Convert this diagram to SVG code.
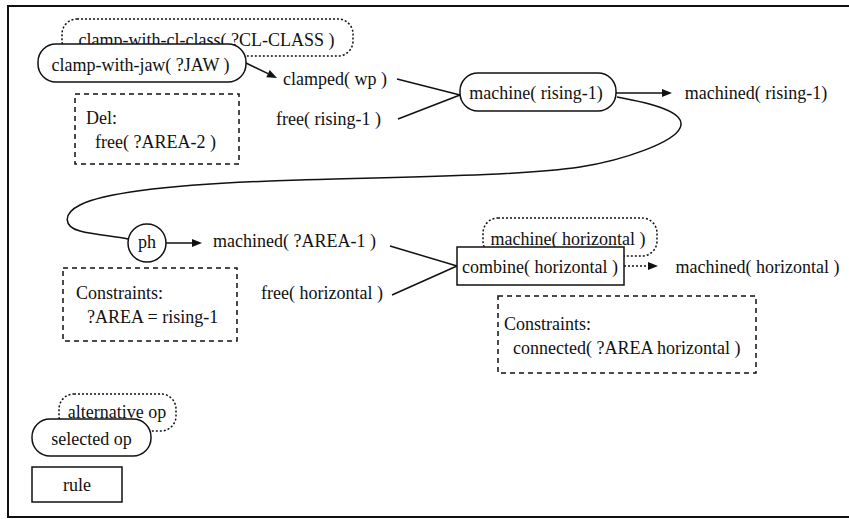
<svg xmlns="http://www.w3.org/2000/svg" width="849" height="519" viewBox="0 0 849 519">
<style>
.t{font-family:'Liberation Serif','Times New Roman',serif;font-size:18px;fill:#111}
.c{text-anchor:middle}
.sel{fill:#fff;stroke:#111;stroke-width:1.5}
.alt{fill:#fff;stroke:#111;stroke-width:1.5;stroke-dasharray:2,2}
.note{fill:none;stroke:#111;stroke-width:1.5;stroke-dasharray:5,4}
.ln{fill:none;stroke:#111;stroke-width:1.5}
.dot{fill:none;stroke:#111;stroke-width:1.5;stroke-dasharray:2,2}
.ah{fill:#111;stroke:none}
</style>
<rect width="849" height="519" fill="#fff"/>
<path d="M849,6 H8 V517 H849" fill="none" stroke="#111" stroke-width="2"/>

<g id="connectors">
<line class="ln" x1="246" y1="63" x2="268" y2="73.6"/>
<polygon class="ah" points="277,78 266.3,77.2 269.7,70"/>
<line class="ln" x1="397" y1="79" x2="460" y2="95"/>
<line class="ln" x1="398" y1="119" x2="460" y2="95"/>
<line class="ln" x1="616" y1="93" x2="662" y2="93"/>
<polygon class="ah" points="672,93 662,89 662,97"/>
<path class="ln" d="M617,97 C650,103 688,112 680,128 C674,142 625,160 580,167 C520,176 400,177 300,180 C200,183 110,190 80,205 C62,214 64,227 80,231 C95,235 115,236 128,239"/>
<line class="ln" x1="166" y1="243" x2="192" y2="243"/>
<polygon class="ah" points="202,243 192,239 192,247"/>
<line class="ln" x1="390" y1="246" x2="457" y2="266"/>
<line class="ln" x1="392" y1="295" x2="457" y2="266"/>
<line class="dot" x1="624" y1="266" x2="648" y2="266"/>
<polygon class="ah" points="658,266 648,262 648,270"/>
</g>

<g id="alt-clamp-cl-class">
<rect class="alt" x="62" y="19" width="291" height="37" rx="15"/>
<text class="t c" font-family="Liberation Serif" font-size="18" x="206.5" y="46">clamp-with-cl-class( ?CL-CLASS )</text>
</g>
<g id="clamp-with-jaw">
<rect class="sel" x="38" y="44" width="208" height="38" rx="18"/>
<text class="t c" font-family="Liberation Serif" font-size="18" x="140.5" y="71">clamp-with-jaw( ?JAW )</text>
</g>
<g id="clamped-wp"><text class="t c" font-family="Liberation Serif" font-size="18" x="335" y="85">clamped( wp )</text></g>
<g id="free-rising"><text class="t c" font-family="Liberation Serif" font-size="18" x="328.5" y="125">free( rising-1 )</text></g>
<g id="del-note">
<rect class="note" x="75" y="94" width="164" height="70"/>
<text class="t" font-family="Liberation Serif" font-size="18" x="86" y="124">Del:</text>
<text class="t" font-family="Liberation Serif" font-size="18" x="95" y="148">free( ?AREA-2 )</text>
</g>
<g id="machine-rising">
<rect class="sel" x="460" y="73" width="156" height="38" rx="18"/>
<text class="t c" font-family="Liberation Serif" font-size="18" x="536" y="99">machine( rising-1)</text>
</g>
<g id="machined-rising"><text class="t c" font-family="Liberation Serif" font-size="18" x="756" y="99">machined( rising-1)</text></g>

<g id="ph">
<circle class="sel" cx="147" cy="243" r="19"/>
<text class="t c" font-family="Liberation Serif" font-size="18" x="147" y="248">ph</text>
</g>
<g id="machined-area"><text class="t c" font-family="Liberation Serif" font-size="18" x="294.5" y="247">machined( ?AREA-1 )</text></g>
<g id="constraints-left">
<rect class="note" x="63" y="268" width="174" height="73"/>
<text class="t" font-family="Liberation Serif" font-size="18" x="76" y="299">Constraints:</text>
<text class="t" font-family="Liberation Serif" font-size="18" x="87" y="323">?AREA = rising-1</text>
</g>
<g id="free-horizontal"><text class="t c" font-family="Liberation Serif" font-size="18" x="322" y="299">free( horizontal )</text></g>
<g id="alt-machine-horizontal">
<rect class="alt" x="483" y="218" width="174" height="38" rx="15"/>
<text class="t c" font-family="Liberation Serif" font-size="18" x="568" y="245">machine( horizontal )</text>
</g>
<g id="combine-horizontal">
<rect class="sel" x="457" y="247" width="167" height="38"/>
<text class="t c" font-family="Liberation Serif" font-size="18" x="540" y="273">combine( horizontal )</text>
</g>
<g id="machined-horizontal"><text class="t c" font-family="Liberation Serif" font-size="18" x="757.5" y="273">machined( horizontal )</text></g>
<g id="constraints-right">
<rect class="note" x="498" y="296" width="258" height="77"/>
<text class="t" font-family="Liberation Serif" font-size="18" x="504" y="330">Constraints:</text>
<text class="t" font-family="Liberation Serif" font-size="18" x="513" y="354">connected( ?AREA horizontal )</text>
</g>

<g id="legend-alternative">
<rect class="alt" x="59" y="394" width="117" height="37" rx="15"/>
<text class="t c" font-family="Liberation Serif" font-size="18" x="117" y="418">alternative op</text>
</g>
<g id="legend-selected">
<rect class="sel" x="32" y="419" width="119" height="37" rx="18"/>
<text class="t c" font-family="Liberation Serif" font-size="18" x="91.5" y="445">selected op</text>
</g>
<g id="legend-rule">
<rect class="sel" x="32" y="467" width="90" height="35"/>
<text class="t c" font-family="Liberation Serif" font-size="18" x="77" y="491">rule</text>
</g>
</svg>
